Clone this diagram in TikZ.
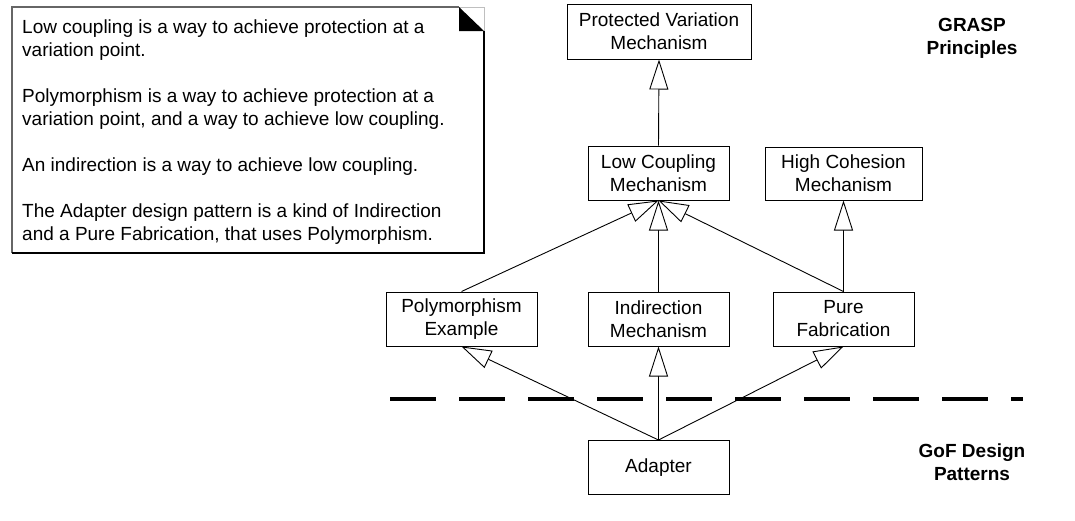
\documentclass[tikz,border=0pt]{standalone}
\usepackage{fontspec}
\setmainfont{Liberation Sans}
\usetikzlibrary{arrows.meta}
\tikzset{
  txt/.style={font=\fontsize{19}{23}\selectfont},
  box/.style={draw=black, line width=1pt, rectangle, inner sep=0pt, align=center, txt},
  lbl/.style={inner sep=0pt, align=center, font=\fontsize{19}{23}\selectfont\bfseries},
  gen/.style={line width=0.9pt, -{Triangle[length=30pt,width=19pt,fill=white]}},
  sep/.style={line width=4pt, dash pattern=on 46pt off 23pt}
}
\begin{document}
\begin{tikzpicture}[x=1pt,y=-1pt, line join=miter]
\useasboundingbox (0,0) rectangle (1075,520);
% note
\draw[black!60, line width=1.1pt] (12,253) -- (12,7) -- (459,7);
\draw[black!25, line width=1pt] (459,7) -- (484,7) -- (484,31);
\draw[black, line width=1.1pt] (484,31) -- (484,253) -- (12,253);
\fill[black] (459,7) -- (459,31) -- (484,31) -- cycle;
\node[txt, anchor=north west, inner sep=0pt, align=left] (note) at (22,17.5)
 {\strut Low coupling is a way to achieve protection at a\\
  variation point.\\[23pt]
  Polymorphism is a way to achieve protection at a\\
  variation point, and a way to achieve low coupling.\\[23pt]
  An indirection is a way to achieve low coupling.\\[23pt]
  The Adapter design pattern is a kind of Indirection\\
  and a Pure Fabrication, that uses Polymorphism.};
% boxes
\node[box, minimum width=184pt, minimum height=55pt] (pv) at (659,31.5) {Protected Variation\\Mechanism};
\node[box, minimum width=141pt, minimum height=54pt] (lc) at (658.5,173) {Low Coupling\\Mechanism};
\node[box, minimum width=157pt, minimum height=53pt] (hc) at (843.5,173.5) {High Cohesion\\Mechanism};
\node[box, minimum width=151pt, minimum height=54pt] (pe) at (461.5,319) {Polymorphism\\Example};
\node[box, minimum width=141pt, minimum height=54pt] (im) at (658.5,319) {Indirection\\Mechanism};
\node[box, minimum width=141pt, minimum height=54pt] (pf) at (843.5,319) {Pure\\Fabrication};
\node[box, minimum width=141pt, minimum height=54pt] (ad) at (658.5,467.5) {Adapter};
% labels
\node[lbl] (grasp) at (972,38.5) {GRASP\\Principles};
\node[lbl] (gof) at (972,462) {GoF Design\\Patterns};
% separator
\coordinate (dl) at (390,399);
\coordinate (dr) at (1023,399);
\draw[sep] (dl) -- (dr);
% connectors
\draw[gen] (lc.north) -- (pv.south);
\draw[gen] (pe.north) -- (lc.south);
\draw[gen] (pf.north) -- (lc.south);
\draw[gen] (im.north) -- (lc.south);
\draw[gen] (pf.north) -- (hc.south);
\draw[gen] (ad.north) -- (pe.south);
\draw[gen] (ad.north) -- (pf.south);
\draw[gen] (ad.north) -- (im.south);
\end{tikzpicture}
\end{document}
